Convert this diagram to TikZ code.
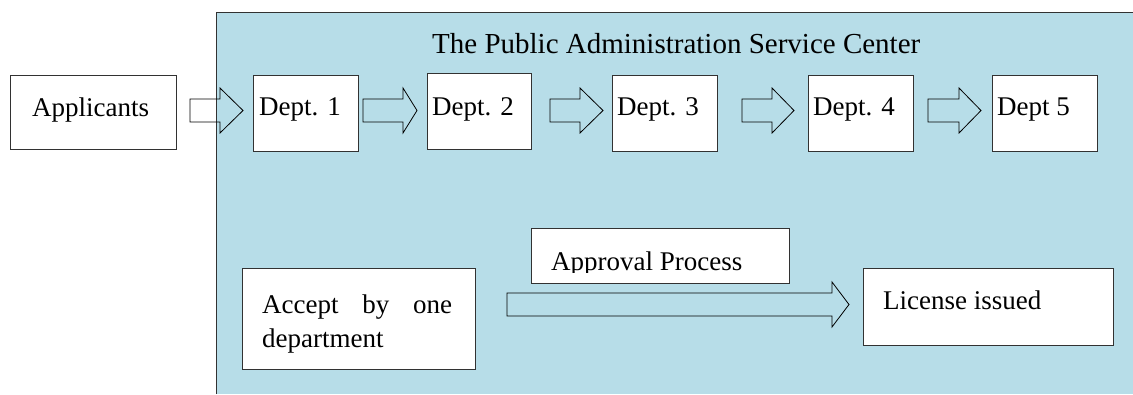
\documentclass[tikz,border=0pt]{standalone}
\usepackage{fontspec}
\setmainfont{Liberation Serif}
\usetikzlibrary{calc}
\definecolor{panelblue}{RGB}{183,221,232}
\definecolor{edge}{RGB}{50,50,50}
% outlined block arrow: start x, head base x, tip x, centre y, half body, half head
\newcommand\hollowarrow[6]{%
  \draw[arrowline] (#1,{#4-#5}) -- (#2,{#4-#5}) -- (#2,{#4-#6}) -- (#3,#4)
    -- (#2,{#4+#6}) -- (#2,{#4+#5}) -- (#1,{#4+#5}) -- cycle;}
\begin{document}
\begin{tikzpicture}[x=1pt,y=-1pt,
  box/.style={draw=edge,fill=white,line width=1pt,inner sep=0pt,anchor=north west},
  arrowline/.style={draw=black,line width=0.8pt,line join=miter},
  lbl/.style={inner sep=0pt,anchor=base west,font=\fontsize{27}{34}\selectfont},
  ttl/.style={inner sep=0pt,anchor=base west,font=\fontsize{29}{34}\selectfont}]
\useasboundingbox (0,0) rectangle (1133,394);
% service centre panel
\fill[panelblue] (216,12) rectangle (1133,394);
\draw[edge,line width=1pt] (216,394) -- (216,12) -- (1133,12);
\node[ttl] (title) at (432,53) {The Public Administration Service Center};
% top row
\node[box,minimum width=166pt,minimum height=74pt] (app) at (10,75) {};
\node[lbl] (applbl) at (32,116) {Applicants};
\node[box,minimum width=105pt,minimum height=76pt] (d1) at (253,75) {};
\node[lbl] at ($(d1.north west)+(6,40)$) {Dept. 1};
\node[box,minimum width=104pt,minimum height=76pt] (d2) at (427,73) {};
\node[lbl] at ($(d2.north west)+(5,42)$) {Dept. 2};
\node[box,minimum width=105pt,minimum height=76pt] (d3) at (612,75) {};
\node[lbl] at ($(d3.north west)+(5,40)$) {Dept. 3};
\node[box,minimum width=105pt,minimum height=76pt] (d4) at (808,75) {};
\node[lbl] at ($(d4.north west)+(5,40)$) {Dept. 4};
\node[box,minimum width=105pt,minimum height=76pt] (d5) at (992,75) {};
\node[lbl] at ($(d5.north west)+(5,40)$) {Dept 5};
% arrows between the departments
\hollowarrow{190}{220}{243}{110.5}{11.5}{22.5}
\hollowarrow{363}{403}{417}{110.5}{11.5}{22.5}
\hollowarrow{550}{580}{603}{110.5}{11.5}{22.5}
\hollowarrow{742}{772}{794}{110.5}{11.5}{22.5}
\hollowarrow{928}{959}{981}{110.5}{11.5}{22.5}
% bottom row
\node[box,minimum width=233pt,minimum height=101pt] (acc) at (242,268) {};
\node[lbl,align=left,anchor=north west] at (262,295)
  {\makebox[190pt][s]{Accept by one}\\department};
\node[box,minimum width=258pt,minimum height=55pt] (appr) at (531,228) {};
\begin{scope}
  \clip (531,228) rectangle (789,272);
  \node[lbl] at (551,270) {Approval Process};
\end{scope}
\hollowarrow{507}{832}{849}{304.5}{11.5}{22.5}
\node[box,minimum width=250pt,minimum height=77pt] (lic) at (863,268) {};
\node[lbl] at (883,309) {License issued};
\end{tikzpicture}
\end{document}
